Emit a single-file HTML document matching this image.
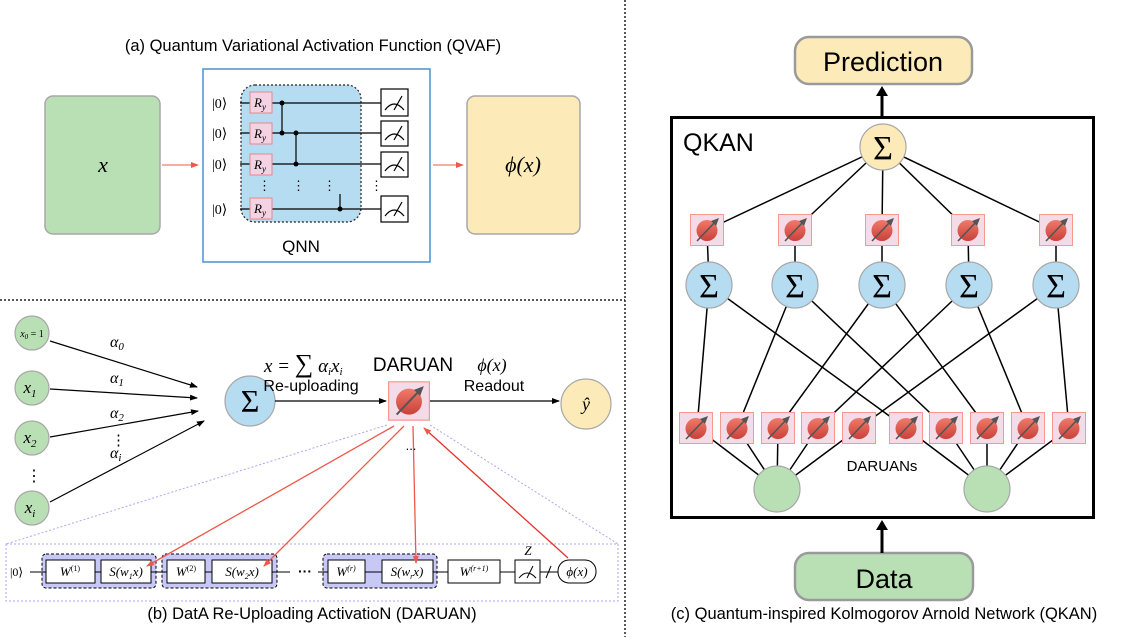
<!DOCTYPE html>
<html><head><meta charset="utf-8"><style>
body{margin:0;background:#fff}
svg{display:block}
</style></head><body>
<svg width="1147" height="637" viewBox="0 0 1147 637" xmlns="http://www.w3.org/2000/svg" font-family="Liberation Sans, sans-serif">
<defs>
<linearGradient id="rg" x1="0" y1="0" x2="0" y2="1"><stop offset="0" stop-color="#f07a6a"/><stop offset="1" stop-color="#c9413a"/></linearGradient>
<symbol id="dar" viewBox="0 0 34 32">
<rect x="0.5" y="0.5" width="33" height="31" fill="#f3dbe8" stroke="#f49a90" stroke-width="1"/>
<circle cx="17" cy="16.5" r="10.5" fill="url(#rg)"/>
<line x1="7" y1="27" x2="26" y2="7" stroke="#555" stroke-width="1.6"/>
<polygon points="29,4 21,7 26,12" fill="#555"/>
</symbol>
<marker id="ab" markerWidth="8" markerHeight="8" refX="7" refY="4" orient="auto" markerUnits="userSpaceOnUse"><path d="M0,1 L8,4 L0,7 Z" fill="#000"/></marker>
<marker id="ar" markerWidth="8" markerHeight="8" refX="7" refY="4" orient="auto" markerUnits="userSpaceOnUse"><path d="M0,1 L8,4 L0,7 Z" fill="#f0584a"/></marker>
</defs>

<line x1="625" y1="0" x2="625" y2="637" stroke="#222" stroke-width="1.5" stroke-dasharray="2,2"/>
<line x1="0" y1="300" x2="625" y2="300" stroke="#222" stroke-width="1.5" stroke-dasharray="2,2"/>

<!-- (a) -->
<text x="313" y="51" font-size="16.5" text-anchor="middle">(a) Quantum Variational Activation Function (QVAF)</text>
<rect x="45" y="96" width="115" height="138" rx="8" fill="#b9e0b4" stroke="#a7a7a7" stroke-width="1.5"/>
<text x="103" y="172" font-family="Liberation Serif, serif" font-style="italic" font-size="22" text-anchor="middle">x</text>
<rect x="467" y="96" width="113" height="138" rx="8" fill="#fcebb8" stroke="#a7a7a7" stroke-width="1.5"/>
<text x="523" y="172" font-family="Liberation Serif, serif" font-style="italic" font-size="22" text-anchor="middle">ϕ(x)</text>
<line x1="162" y1="165" x2="198" y2="165" stroke="#f0584a" stroke-width="1" marker-end="url(#ar)"/>
<line x1="433" y1="165" x2="463" y2="165" stroke="#f0584a" stroke-width="1" marker-end="url(#ar)"/>
<rect x="203" y="69" width="227" height="193" fill="#fff" stroke="#4a90d0" stroke-width="1.5"/>
<rect x="241" y="85" width="120" height="137" rx="14" fill="#b6dcf1" stroke="#222" stroke-width="1.2" stroke-dasharray="2,2"/>
<g stroke="#000" stroke-width="1.2">
<line x1="240" y1="103" x2="382" y2="103"/><line x1="240" y1="133" x2="382" y2="133"/>
<line x1="240" y1="164" x2="382" y2="164"/><line x1="240" y1="209" x2="382" y2="209"/>
<line x1="282" y1="103" x2="282" y2="133"/><line x1="296" y1="133" x2="296" y2="164"/>
<line x1="340" y1="194" x2="340" y2="209"/>
</g>
<g fill="#000"><circle cx="282" cy="103" r="2.5"/><circle cx="282" cy="133" r="2.5"/><circle cx="296" cy="133" r="2.5"/><circle cx="296" cy="164" r="2.5"/><circle cx="340" cy="209" r="2.5"/></g>
<g font-size="14" font-family="Liberation Serif, serif"><text x="212" y="108">|0⟩</text><text x="212" y="138">|0⟩</text><text x="212" y="169">|0⟩</text><text x="212" y="214">|0⟩</text></g>
<g fill="#f3d3e3" stroke="#e58a8a" stroke-width="1">
<rect x="250" y="92" width="22" height="21"/><rect x="250" y="123" width="22" height="21"/><rect x="250" y="154" width="22" height="21"/><rect x="250" y="198" width="22" height="21"/></g>
<g font-family="Liberation Serif, serif" font-style="italic" font-size="13"><text x="254" y="107">R<tspan font-size="9" dy="3">y</tspan></text><text x="254" y="138">R<tspan font-size="9" dy="3">y</tspan></text><text x="254" y="169">R<tspan font-size="9" dy="3">y</tspan></text><text x="254" y="213">R<tspan font-size="9" dy="3">y</tspan></text></g>
<g font-size="13"><text x="258" y="190">⋮</text><text x="292" y="190">⋮</text><text x="323" y="190">⋮</text><text x="370" y="190">⋮</text></g>
<g fill="#fff" stroke="#000" stroke-width="1.2">
<rect x="381" y="89" width="27" height="27"/><rect x="381" y="121" width="27" height="25"/><rect x="381" y="152" width="27" height="25"/><rect x="381" y="196" width="27" height="26"/></g>
<g fill="none" stroke="#000" stroke-width="1.2">
<path d="M385,110 Q394,98 404,110 M394,110 L402,96"/><path d="M385,140 Q394,128 404,140 M394,140 L402,126"/><path d="M385,171 Q394,159 404,171 M394,171 L402,157"/><path d="M385,216 Q394,204 404,216 M394,216 L402,202"/></g>
<text x="301" y="252" font-size="17" text-anchor="middle">QNN</text>

<!-- (b) -->
<g fill="#b9e0b4" stroke="#a7a7a7" stroke-width="1.2">
<circle cx="32" cy="333" r="17"/><circle cx="32" cy="388" r="17"/><circle cx="32" cy="438" r="17"/><circle cx="32" cy="508" r="17"/></g>
<g font-family="Liberation Serif, serif" font-style="italic" text-anchor="middle"><text x="32" y="337" font-size="10">x<tspan font-size="7" dy="2">0</tspan><tspan dy="-2" font-style="normal"> = 1</tspan></text>
<text x="30" y="393" font-size="17">x<tspan font-size="11" dy="4">1</tspan></text>
<text x="30" y="443" font-size="17">x<tspan font-size="11" dy="4">2</tspan></text>
<text x="30" y="513" font-size="17">x<tspan font-size="11" dy="4">i</tspan></text></g>
<text x="26" y="481" font-size="16">⋮</text>
<g stroke="#000" stroke-width="1.2">
<line x1="50" y1="341" x2="197" y2="387" marker-end="url(#ab)"/>
<line x1="50" y1="389" x2="197" y2="398" marker-end="url(#ab)"/>
<line x1="50" y1="437" x2="198" y2="411" marker-end="url(#ab)"/>
<line x1="50" y1="502" x2="204" y2="421" marker-end="url(#ab)"/>
</g>
<g font-family="Liberation Serif, serif" font-style="italic" font-size="16"><text x="110" y="347">α<tspan font-size="11" dy="3">0</tspan></text><text x="110" y="383">α<tspan font-size="11" dy="3">1</tspan></text><text x="110" y="418">α<tspan font-size="11" dy="3">2</tspan></text><text x="110" y="458">α<tspan font-size="11" dy="3">i</tspan></text></g>
<text x="111" y="445" font-size="15">⋮</text>
<circle cx="250" cy="401" r="25" fill="#b6dcf1" stroke="#a7a7a7" stroke-width="1.2"/>
<text x="250" y="412" font-size="32" text-anchor="middle" font-family="Liberation Serif, serif">Σ</text>
<line x1="275" y1="401" x2="386" y2="401" stroke="#000" stroke-width="1.2" marker-end="url(#ab)"/>
<line x1="430" y1="401" x2="559" y2="401" stroke="#000" stroke-width="1.2" marker-end="url(#ab)"/>
<text x="264" y="372" font-family="Liberation Serif, serif" font-style="italic" font-size="19">x = <tspan font-style="normal" font-size="26">∑</tspan> α<tspan font-size="11" dy="3">i</tspan><tspan dy="-3">x</tspan><tspan font-size="11" dy="3">i</tspan></text>
<text x="311" y="391" font-size="16" text-anchor="middle">Re-uploading</text>
<text x="413" y="371" font-size="19" text-anchor="middle">DARUAN</text>
<text x="492" y="371" font-family="Liberation Serif, serif" font-style="italic" font-size="18" text-anchor="middle">ϕ(x)</text>
<text x="494" y="391" font-size="16" text-anchor="middle">Readout</text>
<circle cx="586" cy="404" r="25" fill="#fcebb8" stroke="#a7a7a7" stroke-width="1.2"/>
<text x="586" y="410" font-family="Liberation Serif, serif" font-style="italic" font-size="18" text-anchor="middle">ŷ</text>
<g stroke="#a9a9f5" stroke-width="1" stroke-dasharray="2,2" fill="none">
<line x1="387" y1="425" x2="6" y2="544"/><line x1="430" y1="425" x2="618" y2="544"/>
<rect x="6" y="544" width="612" height="57"/></g>
<!-- circuit -->
<g fill="#c8c8f7" stroke="#000" stroke-width="1" stroke-dasharray="3,2">
<rect x="42" y="554" width="114" height="34" rx="4"/><rect x="162" y="554" width="115" height="34" rx="4"/><rect x="323" y="554" width="114" height="34" rx="4"/></g>
<g stroke="#000" stroke-width="1"><line x1="30" y1="572" x2="290" y2="572"/><line x1="318" y1="572" x2="558" y2="572"/><line x1="546" y1="578" x2="551" y2="566"/></g>
<g fill="#fff" stroke="#000" stroke-width="1">
<rect x="46" y="560" width="49" height="23"/><rect x="101" y="560" width="50" height="23"/>
<rect x="167" y="560" width="38" height="23"/><rect x="212" y="560" width="60" height="23"/>
<rect x="328" y="560" width="37" height="23"/><rect x="382" y="560" width="51" height="23"/>
<rect x="448" y="560" width="52" height="23"/><rect x="515" y="560" width="25" height="23"/>
<rect x="558" y="560" width="38" height="23" rx="11"/></g>
<path d="M519,578 Q527,568 536,578 M527,578 L533,566" fill="none" stroke="#000"/>
<g font-family="Liberation Serif, serif" font-size="13" font-style="italic" text-anchor="middle">
<text x="10" y="576" font-style="normal" text-anchor="start" font-size="12">|0⟩</text>
<text x="70" y="576">W<tspan font-size="8" dy="-5" font-style="normal">(1)</tspan></text>
<text x="126" y="576">S(w<tspan font-size="8" dy="3">1</tspan><tspan dy="-3">x)</tspan></text>
<text x="186" y="576">W<tspan font-size="8" dy="-5" font-style="normal">(2)</tspan></text>
<text x="242" y="576">S(w<tspan font-size="8" dy="3">2</tspan><tspan dy="-3">x)</tspan></text>
<text x="346" y="576">W<tspan font-size="8" dy="-5">(r)</tspan></text>
<text x="407" y="576">S(w<tspan font-size="8" dy="3">r</tspan><tspan dy="-3">x)</tspan></text>
<text x="474" y="576">W<tspan font-size="8" dy="-5">(r+1)</tspan></text>
<text x="528" y="555">Z</text>
<text x="577" y="576">ϕ(x)</text></g>
<text x="305" y="576" font-size="14" text-anchor="middle" font-weight="bold">···</text>
<g stroke="#f0584a" stroke-width="1.3">
<line x1="394" y1="426" x2="147" y2="566" marker-end="url(#ar)"/>
<line x1="404" y1="426" x2="264" y2="566" marker-end="url(#ar)"/>
<line x1="413" y1="426" x2="416" y2="563" marker-end="url(#ar)"/>
<line x1="568" y1="558" x2="424" y2="428" marker-end="url(#ar)" stroke="#e8302a"/>
</g>
<use href="#dar" x="388" y="377" width="42" height="48"/>
<text x="411" y="450" font-size="13" text-anchor="middle">...</text>
<text x="312" y="619" font-size="16.5" text-anchor="middle">(b) DatA Re-Uploading ActivatioN (DARUAN)</text>

<!-- (c) -->
<rect x="795" y="37" width="177" height="47" rx="14" fill="#fcebb8" stroke="#9a9a9a" stroke-width="2.5"/>
<text x="883" y="71" font-size="27" text-anchor="middle">Prediction</text>
<rect x="795" y="553" width="178" height="47" rx="14" fill="#b9e0b4" stroke="#9a9a9a" stroke-width="2.5"/>
<text x="884" y="588" font-size="27" text-anchor="middle">Data</text>
<line x1="882" y1="116" x2="882" y2="94" stroke="#000" stroke-width="3"/><path d="M876,96 L882,86 L888,96 Z" fill="#000"/>
<line x1="882" y1="553" x2="882" y2="530" stroke="#000" stroke-width="3"/><path d="M876,530 L882,520 L888,530 Z" fill="#000"/>
<rect x="671.5" y="117.5" width="422" height="400" fill="none" stroke="#000" stroke-width="3"/>
<text x="683" y="151" font-size="25">QKAN</text>
<g stroke="#000" stroke-width="1.5">
<line x1="883" y1="147" x2="707" y2="230"/><line x1="883" y1="147" x2="795" y2="230"/><line x1="883" y1="147" x2="882" y2="230"/><line x1="883" y1="147" x2="968" y2="230"/><line x1="883" y1="147" x2="1056" y2="230"/>
<line x1="707" y1="230" x2="709" y2="285"/><line x1="795" y1="230" x2="795" y2="285"/><line x1="882" y1="230" x2="882" y2="285"/><line x1="968" y1="230" x2="969" y2="285"/><line x1="1056" y1="230" x2="1056" y2="285"/>
<line x1="709" y1="285" x2="697" y2="428"/><line x1="709" y1="285" x2="906" y2="428"/>
<line x1="795" y1="285" x2="737" y2="428"/><line x1="795" y1="285" x2="946" y2="428"/>
<line x1="882" y1="285" x2="778" y2="428"/><line x1="882" y1="285" x2="987" y2="428"/>
<line x1="969" y1="285" x2="818" y2="428"/><line x1="969" y1="285" x2="1028" y2="428"/>
<line x1="1056" y1="285" x2="859" y2="428"/><line x1="1056" y1="285" x2="1069" y2="428"/>
<line x1="777" y1="489" x2="697" y2="428"/><line x1="777" y1="489" x2="737" y2="428"/><line x1="777" y1="489" x2="778" y2="428"/><line x1="777" y1="489" x2="818" y2="428"/><line x1="777" y1="489" x2="859" y2="428"/>
<line x1="987" y1="489" x2="906" y2="428"/><line x1="987" y1="489" x2="946" y2="428"/><line x1="987" y1="489" x2="987" y2="428"/><line x1="987" y1="489" x2="1028" y2="428"/><line x1="987" y1="489" x2="1069" y2="428"/>
</g>
<circle cx="883" cy="147" r="23" fill="#fcebb8" stroke="#a7a7a7" stroke-width="1.2"/>
<text x="883" y="159" font-size="34" text-anchor="middle" font-family="Liberation Serif, serif">Σ</text>
<g fill="#b6dcf1" stroke="#a7a7a7" stroke-width="1.2">
<circle cx="709" cy="285" r="23"/><circle cx="795" cy="285" r="23"/><circle cx="882" cy="285" r="23"/><circle cx="969" cy="285" r="23"/><circle cx="1056" cy="285" r="23"/></g>
<g font-size="34" text-anchor="middle" font-family="Liberation Serif, serif">
<text x="709" y="297">Σ</text><text x="795" y="297">Σ</text><text x="882" y="297">Σ</text><text x="969" y="297">Σ</text><text x="1056" y="297">Σ</text></g>
<use href="#dar" x="690" y="214" width="34" height="32"/><use href="#dar" x="778" y="214" width="34" height="32"/><use href="#dar" x="865" y="214" width="34" height="32"/><use href="#dar" x="951" y="214" width="34" height="32"/><use href="#dar" x="1039" y="214" width="34" height="32"/>
<use href="#dar" x="679" y="412" width="34" height="32"/><use href="#dar" x="720" y="412" width="34" height="32"/><use href="#dar" x="761" y="412" width="34" height="32"/><use href="#dar" x="801" y="412" width="34" height="32"/><use href="#dar" x="842" y="412" width="34" height="32"/>
<use href="#dar" x="889" y="412" width="34" height="32"/><use href="#dar" x="929" y="412" width="34" height="32"/><use href="#dar" x="970" y="412" width="34" height="32"/><use href="#dar" x="1011" y="412" width="34" height="32"/><use href="#dar" x="1052" y="412" width="34" height="32"/>
<text x="882" y="471" font-size="15" text-anchor="middle">DARUANs</text>
<circle cx="777" cy="489" r="23" fill="#b9e0b4" stroke="#a7a7a7" stroke-width="1.2"/>
<circle cx="987" cy="489" r="23" fill="#b9e0b4" stroke="#a7a7a7" stroke-width="1.2"/>
<text x="884" y="619" font-size="16.5" text-anchor="middle">(c) Quantum-inspired Kolmogorov Arnold Network (QKAN)</text>
</svg>
</body></html>
